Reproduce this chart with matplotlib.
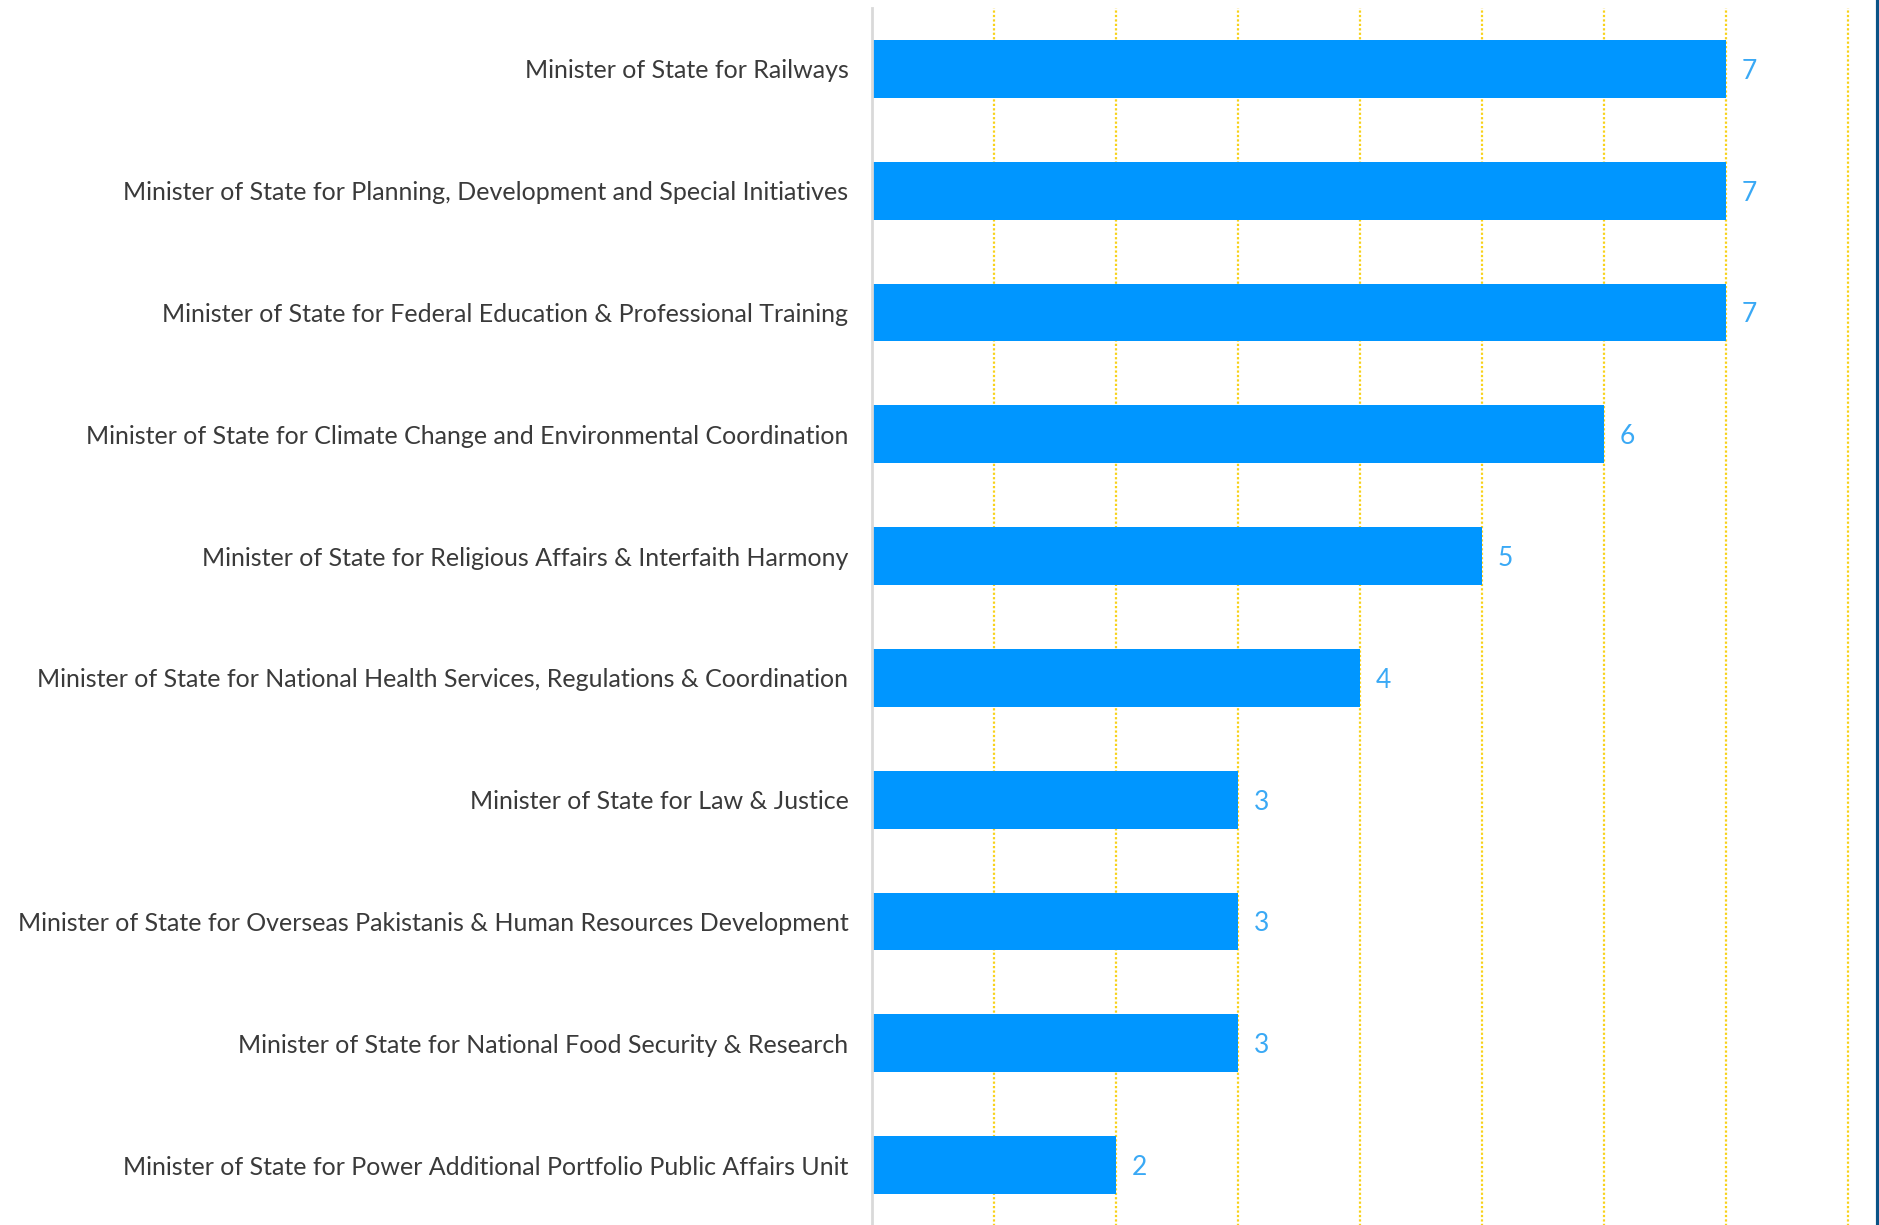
import matplotlib
matplotlib.use("Agg")
import matplotlib.pyplot as plt
from matplotlib.lines import Line2D

categories = [
    "Minister of State for Railways",
    "Minister of State for Planning, Development and Special Initiatives",
    "Minister of State for Federal Education & Professional Training",
    "Minister of State for Climate Change and Environmental Coordination",
    "Minister of State for Religious Affairs & Interfaith Harmony",
    "Minister of State for National Health Services, Regulations & Coordination",
    "Minister of State for Law & Justice",
    "Minister of State for Overseas Pakistanis & Human Resources Development",
    "Minister of State for National Food Security & Research",
    "Minister of State for Power Additional Portfolio Public Affairs Unit",
]
values = [7, 7, 7, 6, 5, 4, 3, 3, 3, 2]
grid_ticks = [1, 2, 3, 4, 5, 6, 7, 8]

W, H = 1879, 1225
fig = plt.figure(figsize=(W / 100, H / 100), dpi=100)
fig.patch.set_facecolor("white")
left, right, top, bottom = 872, 1877, 8, 1226
ax = fig.add_axes([left / W, 1 - bottom / H, (right - left) / W, (bottom - top) / H])
ax.set_facecolor("none")

ypos = list(range(len(categories)))
ax.barh(ypos, values, height=0.475, color="#0096FF", zorder=3)
ax.set_xlim(0, (right - left) / 122)
ax.set_ylim(len(categories) - 0.5, -0.5)

for g in grid_ticks:
    ax.axvline(g, color="#F8D21A", linestyle=(0, (1, 1)), linewidth=1.6, zorder=1)

for y, v in zip(ypos, values):
    ax.text(v + 0.13, y + 0.02, str(v), va="center", ha="left", fontsize=19,
            color="#3AA9F5", family="Lato", zorder=4)

ax.set_yticks(ypos)
ax.set_yticklabels(categories, fontsize=18, color="#3A3A3A", family="Lato")
ax.tick_params(axis="y", length=0, pad=17)
ax.set_xticks([])
for s in ["top", "right", "bottom"]:
    ax.spines[s].set_visible(False)
ax.spines["left"].set_color("#D9D9D9")
ax.spines["left"].set_linewidth(2)
ax.spines["left"].set_zorder(5)

fig.add_artist(Line2D([1 - 1.5 / W, 1 - 1.5 / W], [0, 1], color="#0B5386", linewidth=3))

fig.savefig("out.png", dpi=100)
